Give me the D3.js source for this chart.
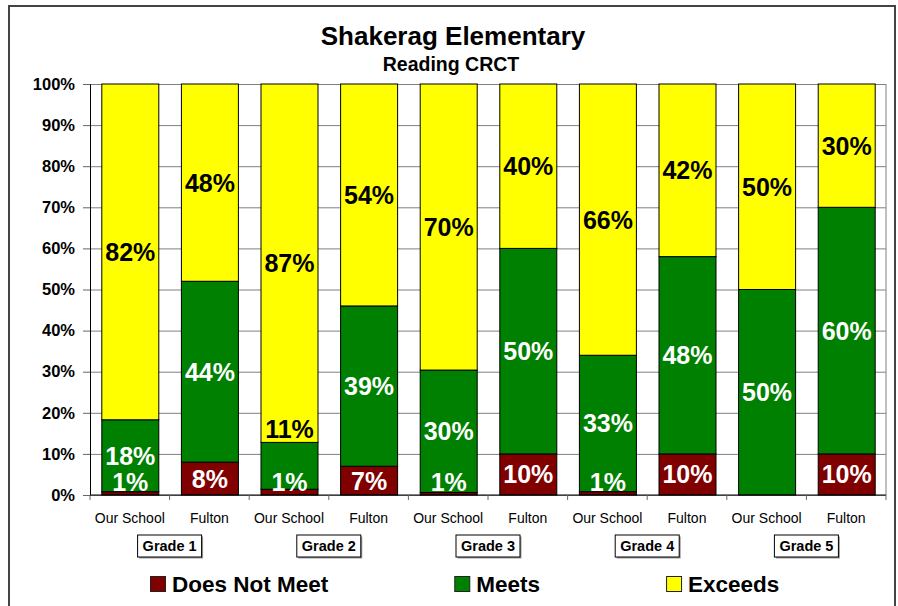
<!DOCTYPE html>
<html>
<head>
<meta charset="utf-8">
<script src="https://cdn.jsdelivr.net/npm/d3@7"></script>
<style>
    body { margin: 0; background: #fff; }
    svg text { font-family: "Liberation Sans", Arial, sans-serif; }
</style>
</head>
<body>
<svg id="chart" width="898" height="606"></svg>
<script>
// Values (percent of students)
var categories = [ 'Our School', 'Fulton', 'Our School', 'Fulton', 'Our School', 'Fulton', 'Our School', 'Fulton', 'Our School', 'Fulton' ],
    grades = [ 'Grade 1', 'Grade 2', 'Grade 3', 'Grade 4', 'Grade 5' ],
    doesNotMeet = [ 0.8, 8, 1.4, 7, 0.6, 10, 0.8, 10, 0, 10 ],
    meets = [ 17.5, 44, 11.4, 39, 29.8, 50, 33.2, 48, 50, 60 ],
    exceeds = [ 81.7, 48, 87.2, 54, 69.6, 40, 66, 42, 50, 30 ],
    yTicks = [ 0, 10, 20, 30, 40, 50, 60, 70, 80, 90, 100 ];

var seriesNames = [ 'Does Not Meet', 'Meets', 'Exceeds' ],
    seriesValues = [ doesNotMeet, meets, exceeds ],
    colors = { 'Does Not Meet': '#800000', 'Meets': '#008000', 'Exceeds': '#ffff00' },
    labelColors = { 'Does Not Meet': '#fff', 'Meets': '#fff', 'Exceeds': '#000' };

var svg = d3.select( '#chart' ),
    plot = { left: 90, right: 886, top: 84, bottom: 495 };

// outer chart frame
svg.append( 'rect' )
    .attr( 'x', 9 ).attr( 'y', 6 )
    .attr( 'width', 886 ).attr( 'height', 640 )
    .attr( 'fill', '#fff' )
    .attr( 'stroke', '#444' )
    .attr( 'stroke-width', 2 );

svg.append( 'text' )
    .attr( 'x', 453 ).attr( 'y', 45 )
    .attr( 'text-anchor', 'middle' )
    .attr( 'font-size', 26 ).attr( 'font-weight', 'bold' )
    .text( 'Shakerag Elementary' );

svg.append( 'text' )
    .attr( 'x', 451 ).attr( 'y', 71 )
    .attr( 'text-anchor', 'middle' )
    .attr( 'font-size', 19.5 ).attr( 'font-weight', 'bold' )
    .text( 'Reading CRCT' );

var x = d3.scaleBand()
        .domain( d3.range( categories.length ) )
        .range( [ plot.left, plot.right ] )
        .paddingInner( 0.284 )
        .paddingOuter( 0.142 ),
    y = d3.scaleLinear()
        .domain( [ 0, 100 ] )
        .range( [ plot.bottom, plot.top ] );

// gridlines
svg.append( 'g' )
    .attr( 'transform', 'translate(' + plot.left + ',0)' )
    .call( d3.axisLeft( y ).tickValues( yTicks ).tickSize( -( plot.right - plot.left ) ).tickFormat( '' ) )
    .call( function( g ) {
        g.select( '.domain' ).remove();
        g.selectAll( 'line' ).attr( 'stroke', '#808080' );
    } );

svg.append( 'line' )
    .attr( 'x1', plot.right ).attr( 'x2', plot.right )
    .attr( 'y1', plot.top ).attr( 'y2', plot.bottom )
    .attr( 'stroke', '#808080' );

// stacked bars
var stacks = categories.map( function( c, idx ) {
    var base = 0;
    return seriesNames.map( function( name, sdx ) {
        var v = seriesValues[ sdx ][ idx ],
            seg = { idx: idx, name: name, value: v, y0: base, y1: base + v };
        base += v;
        return seg;
    } );
} );

var segments = [].concat.apply( [], stacks );

svg.append( 'g' )
    .selectAll( 'rect' )
    .data( segments.filter( function( d ) { return d.value > 0; } ) )
    .join( 'rect' )
    .attr( 'x', function( d ) { return x( d.idx ) + 0.5; } )
    .attr( 'y', function( d ) { return y( d.y1 ); } )
    .attr( 'width', x.bandwidth() )
    .attr( 'height', function( d ) { return y( d.y0 ) - y( d.y1 ); } )
    .attr( 'fill', function( d ) { return colors[ d.name ]; } )
    .attr( 'stroke', '#000' )
    .attr( 'stroke-width', 1 );

// value labels: centred in the segment, kept above the axis,
// pushed above the segment when they would collide with the label below
var labelSize = 25,
    labels = [];

stacks.forEach( function( stack ) {
    var prev = null;
    stack.forEach( function( seg ) {
        if( Math.round( seg.value ) === 0 )
            return;

        var cy = Math.min( y( ( seg.y0 + seg.y1 ) / 2 ), plot.bottom - 13 ),
            color = labelColors[ seg.name ];

        if( prev !== null && prev - cy < labelSize - 3 ) {
            cy = y( seg.y1 ) - 13.5;
            color = labelColors[ 'Exceeds' ];
        }

        labels.push( { idx: seg.idx, cy: cy, color: color, text: Math.round( seg.value ) + '%' } );
        prev = cy;
    } );
} );

svg.append( 'g' )
    .selectAll( 'text' )
    .data( labels )
    .join( 'text' )
    .attr( 'x', function( d ) { return x( d.idx ) + x.bandwidth() / 2 + 0.5; } )
    .attr( 'y', function( d ) { return d.cy + labelSize * 0.36; } )
    .attr( 'text-anchor', 'middle' )
    .attr( 'font-size', labelSize )
    .attr( 'font-weight', 'bold' )
    .attr( 'fill', function( d ) { return d.color; } )
    .text( function( d ) { return d.text; } );

// y axis
svg.append( 'g' )
    .attr( 'transform', 'translate(' + plot.left + ',0)' )
    .call( d3.axisLeft( y ).tickValues( yTicks ).tickSize( 7 ).tickPadding( 8 ).tickFormat( function( d ) { return d + '%'; } ) )
    .call( function( g ) {
        g.select( '.domain' ).attr( 'stroke', '#000' );
        g.selectAll( '.tick line' ).attr( 'stroke', '#666' );
        g.selectAll( 'text' )
            .attr( 'font-size', 16.5 )
            .attr( 'font-weight', 'bold' )
            .attr( 'fill', '#000' )
            .attr( 'font-family', '"Liberation Sans", Arial, sans-serif' );
    } );

// x axis: ticks between categories, labels at centres
var step = x.step(),
    boundaries = d3.range( categories.length + 1 ).map( function( i ) { return plot.left + i * step; } );

svg.append( 'line' )
    .attr( 'x1', plot.left ).attr( 'x2', plot.right )
    .attr( 'y1', plot.bottom ).attr( 'y2', plot.bottom )
    .attr( 'stroke', '#000' );

svg.append( 'g' )
    .selectAll( 'line' )
    .data( boundaries )
    .join( 'line' )
    .attr( 'x1', function( d ) { return d; } )
    .attr( 'x2', function( d ) { return d; } )
    .attr( 'y1', plot.bottom )
    .attr( 'y2', plot.bottom + 5 )
    .attr( 'stroke', '#666' );

svg.append( 'g' )
    .selectAll( 'text' )
    .data( categories )
    .join( 'text' )
    .attr( 'x', function( d, i ) { return x( i ) + x.bandwidth() / 2; } )
    .attr( 'y', 523 )
    .attr( 'text-anchor', 'middle' )
    .attr( 'font-size', 14 )
    .text( function( d ) { return d; } );

// grade boxes, centred between each pair of bars
var gradeG = svg.append( 'g' )
    .selectAll( 'g' )
    .data( grades )
    .join( 'g' )
    .attr( 'transform', function( d, i ) { return 'translate(' + boundaries[ 2 * i + 1 ] + ',535)'; } );

gradeG.each( function( d ) {
    var g = d3.select( this ),
        t = g.append( 'text' )
            .attr( 'x', 0 ).attr( 'y', 16 )
            .attr( 'text-anchor', 'middle' )
            .attr( 'font-size', 14.5 )
            .attr( 'font-weight', 'bold' )
            .text( d ),
        w = t.node().getComputedTextLength() + 10;

    g.insert( 'rect', 'text' )
        .attr( 'x', -w / 2 + 1.5 ).attr( 'y', 1.5 )
        .attr( 'width', w ).attr( 'height', 22 )
        .attr( 'fill', '#999' );
    g.insert( 'rect', 'text' )
        .attr( 'x', -w / 2 ).attr( 'y', 0 )
        .attr( 'width', w ).attr( 'height', 22 )
        .attr( 'fill', '#fff' )
        .attr( 'stroke', '#000' );
} );

// legend
var legendX = 150,
    legend = svg.append( 'g' );

seriesNames.forEach( function( name ) {
    var item = legend.append( 'g' ).attr( 'transform', 'translate(' + legendX + ',576)' );

    item.append( 'rect' )
        .attr( 'x', 0.5 ).attr( 'y', 0.5 )
        .attr( 'width', 15 ).attr( 'height', 15 )
        .attr( 'fill', colors[ name ] )
        .attr( 'stroke', '#222' );

    var t = item.append( 'text' )
        .attr( 'x', 22 ).attr( 'y', 16 )
        .attr( 'font-size', 22.5 )
        .attr( 'font-weight', 'bold' )
        .text( name );

    legendX += 22 + t.node().getComputedTextLength() + 126;
} );
</script>
</body>
</html>
